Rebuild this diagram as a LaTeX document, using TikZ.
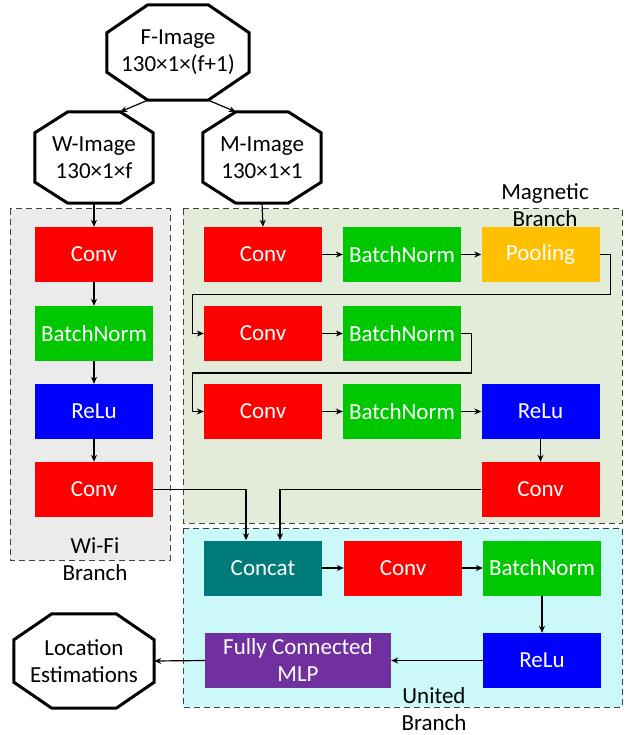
\documentclass[tikz,border=0pt]{standalone}
\usepackage{fontspec}
\setmainfont{Carlito}
\usetikzlibrary{arrows.meta}

\definecolor{cred}{HTML}{FF0000}
\definecolor{cgreen}{HTML}{00C800}
\definecolor{cblue}{HTML}{0000FF}
\definecolor{corange}{HTML}{FFC000}
\definecolor{cteal}{HTML}{007B7B}
\definecolor{cpurple}{HTML}{7030A0}
\definecolor{wifibg}{HTML}{EBEBEB}
\definecolor{magbg}{HTML}{E2ECD8}
\definecolor{unibg}{HTML}{CBF8F8}

% octagon outline drawn around a named node: node, chamfer x, chamfer y
\newcommand\octoutline[3]{%
  \draw[octline] ([xshift=#2]#1.north west) -- ([xshift=-#2]#1.north east)
    -- ([yshift=-#3]#1.north east) -- ([yshift=#3]#1.south east)
    -- ([xshift=-#2]#1.south east) -- ([xshift=#2]#1.south west)
    -- ([yshift=#3]#1.south west) -- ([yshift=-#3]#1.north west) -- cycle;}

\begin{document}
\begin{tikzpicture}[x=1pt,y=-1pt,
  font=\fontsize{23}{27}\selectfont,
  blk/.style={minimum width=118pt,minimum height=55pt,inner sep=0pt,text=white,align=center},
  convbox/.style={blk,fill=cred},
  bnbox/.style={blk,fill=cgreen},
  relubox/.style={blk,fill=cblue},
  poolbox/.style={blk,fill=corange},
  catbox/.style={blk,fill=cteal},
  mlpbox/.style={blk,fill=cpurple,minimum width=186pt},
  octnode/.style={inner sep=0pt,align=center},
  octline/.style={line width=3pt,line join=miter},
  arr/.style={line width=1.2pt,-{Stealth[length=7pt,width=6pt]}},
  region/.style={draw=black!75,line width=1pt,dash pattern=on 6pt off 4pt},
  lbl/.style={align=center,inner sep=0pt}
]
\useasboundingbox (0,0) rectangle (625,735);

% branch regions
\draw[region,fill=wifibg] (10,209) rectangle (170,560);
\draw[region,fill=magbg] (183,209) rectangle (622,523);
\draw[region,fill=unibg] (183,528) rectangle (622,707);

% branch labels
\node[lbl] (wlab) at (95,559) {Wi-Fi\\Branch};
\node[lbl] (mlab) at (545,205) {Magnetic\\Branch};
\node[lbl] (ulab) at (434,709) {United\\Branch};

% input / output images
\node[octnode,minimum width=142pt,minimum height=95pt] (fimg) at (178,52.5) {F-Image\\130×1×(f+1)};
\octoutline{fimg}{41pt}{28pt}
\node[octnode,minimum width=118pt,minimum height=91pt] (wimg) at (94,157.5) {W-Image\\130×1×f};
\octoutline{wimg}{33pt}{21pt}
\node[octnode,minimum width=118pt,minimum height=91pt] (mimg) at (262,157.5) {M-Image\\130×1×1};
\octoutline{mimg}{33pt}{21pt}
\node[octnode,minimum width=140pt,minimum height=94pt] (loc) at (84,661) {Location\\Estimations};
\octoutline{loc}{38pt}{26pt}

% Wi-Fi branch
\node[convbox] (w1) at (94,254.5) {Conv};
\node[bnbox]   (w2) at (94,333.5) {BatchNorm};
\node[relubox] (w3) at (94,411.5) {ReLu};
\node[convbox] (w4) at (94,489.5) {Conv};

% Magnetic branch
\node[convbox] (m1) at (263,254.5) {Conv};
\node[bnbox]   (m2) at (402,254.5) {BatchNorm};
\node[poolbox] (m3) at (540.5,254.5) {Pooling};
\node[convbox] (m4) at (263,333.5) {Conv};
\node[bnbox]   (m5) at (402,333.5) {BatchNorm};
\node[convbox] (m6) at (263,411.5) {Conv};
\node[bnbox]   (m7) at (402,411.5) {BatchNorm};
\node[relubox] (m8) at (540.5,411.5) {ReLu};
\node[convbox] (m9) at (540.5,489.5) {Conv};

% United branch
\node[catbox]  (u1) at (263,568) {Concat};
\node[convbox] (u2) at (403,568) {Conv};
\node[bnbox]   (u3) at (542,568) {BatchNorm};
\node[relubox] (u4) at (542,660.5) {ReLu};
\node[mlpbox]  (u5) at (298,660.5) {Fully Connected\\MLP};

% image split
\draw[arr] ([xshift=41pt]fimg.south west) -- ([xshift=-33pt]wimg.north east);
\draw[arr] ([xshift=-41pt]fimg.south east) -- ([xshift=33pt]mimg.north west);
\draw[arr] (wimg.south) -- (w1.north);
\draw[arr] (mimg.south) -- (m1.north);

% Wi-Fi flow
\draw[arr] (w1) -- (w2);
\draw[arr] (w2) -- (w3);
\draw[arr] (w3) -- (w4);

% Magnetic flow
\draw[arr] (m1) -- (m2);
\draw[arr] (m2) -- (m3);
\draw[arr] (m3.east) -- ++(11,0) -- ++(0,40) -| ([xshift=-11pt]m4.west) -- (m4.west);
\draw[arr] (m4) -- (m5);
\draw[arr] (m5.east) -- ++(10,0) -- ++(0,39.5) -| ([xshift=-11pt]m6.west) -- (m6.west);
\draw[arr] (m6) -- (m7);
\draw[arr] (m7) -- (m8);
\draw[arr] (m8) -- (m9);

% merge into the united branch
\draw[arr] (w4.east) -| ([xshift=-17pt]u1.north);
\draw[arr] (m9.west) -| ([xshift=17pt]u1.north);

% United flow
\draw[arr] (u1) -- (u2);
\draw[arr] (u2) -- (u3);
\draw[arr] (u3) -- (u4);
\draw[arr] (u4) -- (u5);
\draw[arr] (u5.west) -- (loc.east);
\end{tikzpicture}
\end{document}
